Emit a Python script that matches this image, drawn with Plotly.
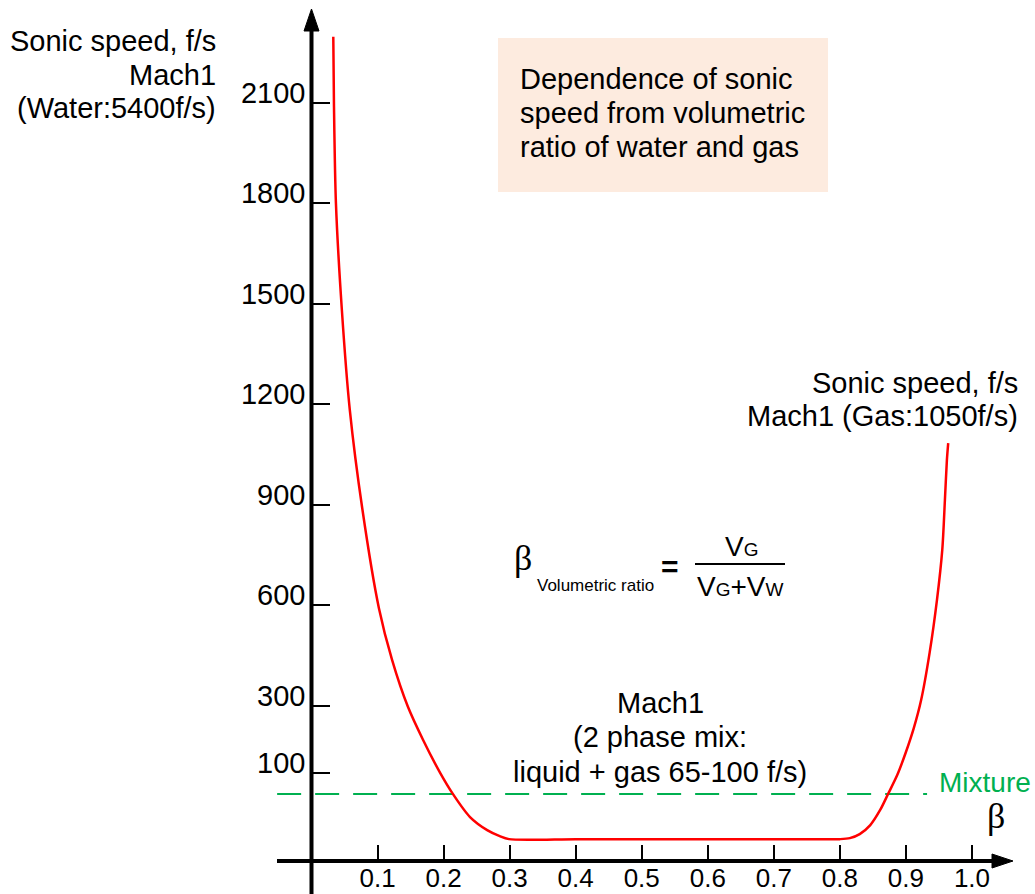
import plotly.graph_objects as go

W, H = 1035, 894

# ---------------- data ----------------
beta_curve = [0.033, 0.034, 0.037, 0.046, 0.058, 0.077, 0.102, 0.122, 0.146, 0.169,
              0.195, 0.214, 0.240, 0.266, 0.285, 0.299,
              0.40, 0.50, 0.60, 0.70,
              0.800, 0.815, 0.830, 0.846, 0.861, 0.873, 0.887, 0.900, 0.912,
              0.923, 0.936, 0.947, 0.955, 0.959, 0.962, 0.964]
speed_curve = [2296, 2097, 1800, 1481, 1183, 887, 592, 437, 297, 198,
               99, 37, -32, -71, -89, -98,
               -98, -98, -98, -98,
               -98, -95, -83, -56, -11, 37, 94, 162, 234,
               317, 460, 616, 765, 914, 1033, 1084]

mixture_beta = [-0.052, 0.932]
mixture_speed = [37, 37]

x_ticks = [0.1, 0.2, 0.3, 0.4, 0.5, 0.6, 0.7, 0.8, 0.9, 1.0]
x_tick_labels = ["0.1", "0.2", "0.3", "0.4", "0.5", "0.6", "0.7", "0.8", "0.9", "1.0"]
y_ticks = [100, 300, 600, 900, 1200, 1500, 1800, 2100]
y_tick_labels = ["100", "300", "600", "900", "1200", "1500", "1800", "2100"]

X_RANGE = [-0.4716, 1.0954]
Y_RANGE = [-261.7, 2406.0]

FONT = "Arial, Liberation Sans, sans-serif"
SERIF = "Times New Roman, Liberation Serif, serif"
GREEN = "#00b050"


def fx(px):
    return px / W


def fy(py):
    return 1 - py / H


fig = go.Figure()

fig.add_trace(go.Scatter(
    x=mixture_beta, y=mixture_speed, mode="lines",
    line=dict(color=GREEN, width=2, dash="24px,14px"),
    hoverinfo="skip", showlegend=False))

fig.add_trace(go.Scatter(
    x=beta_curve, y=speed_curve, mode="lines",
    line=dict(color="#ff0000", width=2.5, shape="spline", smoothing=0.8),
    showlegend=False))

shapes = []
# info box
shapes.append(dict(type="rect", xref="paper", yref="paper",
                   x0=fx(498), x1=fx(828), y0=fy(192), y1=fy(38),
                   fillcolor="#fdebdf", line=dict(width=0), layer="below"))
# axis lines
shapes.append(dict(type="line", xref="paper", yref="paper",
                   x0=fx(311.5), x1=fx(311.5), y0=fy(894), y1=fy(28),
                   line=dict(color="black", width=4)))
shapes.append(dict(type="line", xref="paper", yref="paper",
                   x0=fx(277), x1=fx(996), y0=fy(861), y1=fy(861),
                   line=dict(color="black", width=4)))
# arrowheads
shapes.append(dict(type="path", xref="paper", yref="paper",
                   path=f"M{fx(311.5)},{fy(9)} L{fx(304)},{fy(31)} L{fx(319)},{fy(31)} Z",
                   fillcolor="black", line=dict(color="black", width=1)))
shapes.append(dict(type="path", xref="paper", yref="paper",
                   path=f"M{fx(1013)},{fy(861)} L{fx(992)},{fy(854)} L{fx(992)},{fy(868)} Z",
                   fillcolor="black", line=dict(color="black", width=1)))
# fraction bar
shapes.append(dict(type="line", xref="paper", yref="paper",
                   x0=fx(695), x1=fx(785), y0=fy(564), y1=fy(564),
                   line=dict(color="black", width=2)))

ann = []


def text(s, px, py, size=29, xanchor="center", color="black", family=FONT):
    ann.append(dict(text=s, x=fx(px), y=fy(py), xref="paper", yref="paper",
                    xanchor=xanchor, yanchor="middle", showarrow=False,
                    font=dict(family=family, size=size, color=color)))


# left y-axis title
text("Sonic speed, f/s", 218, 41, xanchor="right")
text("Mach1", 218, 75, xanchor="right")
text("(Water:5400f/s)", 218, 108, xanchor="right")
# right label
text("Sonic speed, f/s", 1020, 383, xanchor="right")
text("Mach1 (Gas:1050f/s)", 1020, 416, xanchor="right")
# box text
text("Dependence of sonic", 518, 79, xanchor="left")
text("speed from volumetric", 518, 113, xanchor="left")
text("ratio of water and gas", 518, 147, xanchor="left")
# Mach1 mix text
text("Mach1", 660, 703)
text("(2 phase mix:", 660, 737)
text("liquid + gas 65-100 f/s)", 660, 772)
# Mixture label
text("Mixture", 937, 782, size=28, xanchor="left", color=GREEN)
# beta axis label
text("β", 996, 816, size=36, family=SERIF)
# formula
text("β", 523, 558, size=36, family=SERIF)
text("Volumetric ratio", 535, 585, size=17, xanchor="left")
text("<b>=</b>", 670, 566, size=30)
text("V<span style='font-size:19px'>G</span>", 741, 546, size=28)
text("V<span style='font-size:19px'>G</span>+V<span style='font-size:19px'>W</span>",
     740, 586, size=28)

fig.update_layout(
    width=W, height=H,
    margin=dict(l=0, r=0, t=0, b=0, pad=0, autoexpand=False),
    paper_bgcolor="white", plot_bgcolor="white",
    showlegend=False,
    shapes=shapes, annotations=ann,
    font=dict(family=FONT, color="black"),
    xaxis=dict(range=X_RANGE, anchor="free", position=fy(861),
               showgrid=False, zeroline=False, showline=False,
               tickmode="array", tickvals=x_ticks, ticktext=x_tick_labels,
               ticks="inside", ticklen=16, tickwidth=2, tickcolor="black",
               tickfont=dict(size=26, family=FONT, color="black"),
               ticklabelstandoff=-1, fixedrange=True),
    yaxis=dict(range=Y_RANGE, anchor="free", position=fx(311.5),
               showgrid=False, zeroline=False, showline=False,
               tickmode="array", tickvals=y_ticks, ticktext=y_tick_labels,
               ticks="inside", ticklen=17, tickwidth=2, tickcolor="black",
               tickfont=dict(size=29, family=FONT, color="black"),
               ticklabelstandoff=6, ticklabelshift=-10, fixedrange=True),
)

fig.write_html("out.html",
               config={"displayModeBar": False},
               post_script="document.body.style.margin='0';document.body.style.padding='0';")
